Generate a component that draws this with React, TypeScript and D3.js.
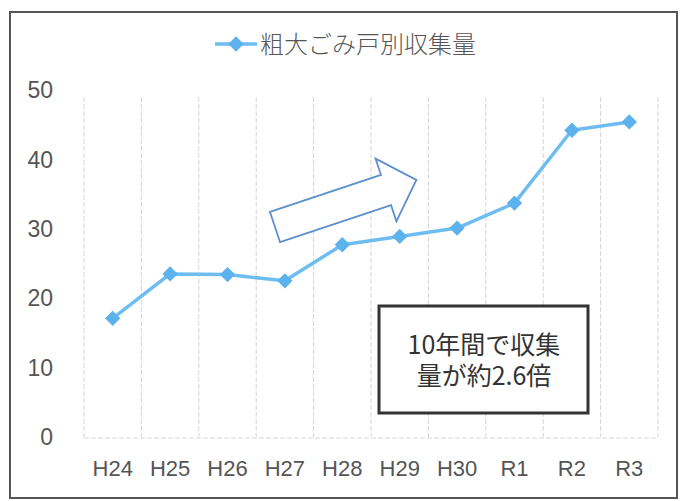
import React from "react";
import * as d3 from "d3";

const categories = ["H24", "H25", "H26", "H27", "H28", "H29", "H30", "R1", "R2", "R3"];
const values = [17.1, 23.5, 23.4, 22.5, 27.7, 28.9, 30.1, 33.7, 44.2, 45.4];
const yTicks = [0, 10, 20, 30, 40, 50];
const legendLabel = "粗大ごみ戸別収集量";
const noteLines = ["10年間で収集", "量が約2.6倍"];

const W = 685;
const H = 501;
const LINE = "#6dbdf0";
const MARK = "#5cb2ec";

export default function App() {
  const band = d3.scaleBand<string>().domain(categories).range([84, 658]).padding(0);
  const x = (c: string) => (band(c) as number) + band.bandwidth() / 2;
  const y = d3.scaleLinear().domain([0, 50]).range([437, 90]);
  const line = d3
    .line<number>()
    .x((_, i) => x(categories[i]))
    .y((d) => y(d));
  const diamond = d3.symbol().type(d3.symbolDiamond2).size(150)() as string;

  const gridXs = [...categories.map((c) => band(c) as number), 658];

  // block arrow in local coordinates, rotated
  const arrowPts: [number, number][] = [
    [0, -16],
    [117, -16],
    [117, -33],
    [149, 0],
    [117, 33],
    [117, 16],
    [0, 16],
  ];
  const arrowAngle = (Math.atan2(-47, 141) * 180) / Math.PI;

  return (
    <div style={{ position: "fixed", left: 0, top: 0, width: W, height: H, background: "#fff" }}>
      <svg width={W} height={H} style={{ display: "block" }}>
        <rect x={0} y={0} width={W} height={H} fill="#fff" />
        <rect x={10} y={12} width={667} height={486} fill="none" stroke="#555" strokeWidth={2} />

        {/* legend */}
        <line x1={215} x2={257} y1={44} y2={44} stroke={LINE} strokeWidth={3.5} />
        <path d={diamond} transform="translate(236,44)" fill={MARK} />
        <text
          x={260}
          y={53}
          fontFamily="'Noto Sans CJK JP', sans-serif"
          fontSize={24}
          fontWeight={300}
          fill="#555"
        >
          {legendLabel}
        </text>

        {/* vertical gridlines */}
        {gridXs.map((gx, i) => (
          <line
            key={i}
            x1={gx}
            x2={gx}
            y1={97}
            y2={y(0)}
            stroke="#d6d6d6"
            strokeWidth={1}
            strokeDasharray="5,2"
          />
        ))}
        <line x1={84} x2={658} y1={y(0) + 1} y2={y(0) + 1} stroke="#d6d6d6" strokeWidth={1} strokeDasharray="5,2" />

        {/* y tick labels */}
        {yTicks.map((t) => (
          <text
            key={t}
            x={53}
            y={y(t)}
            dy="0.36em"
            textAnchor="end"
            fontFamily="'Liberation Sans', Arial, sans-serif"
            fontSize={23}
            fill="#555"
          >
            {t}
          </text>
        ))}

        {/* x labels */}
        {categories.map((c) => (
          <text
            key={c}
            x={x(c)}
            y={476}
            textAnchor="middle"
            fontFamily="'Liberation Sans', Arial, sans-serif"
            fontSize={22}
            fill="#555"
          >
            {c}
          </text>
        ))}

        {/* arrow */}
        <polygon
          points={arrowPts.map((p) => p.join(",")).join(" ")}
          transform={`translate(275,227) rotate(${arrowAngle})`}
          fill="#fff"
          stroke="#5b8fcf"
          strokeWidth={1.8}
          strokeLinejoin="miter"
        />

        {/* series */}
        <path d={line(values) as string} fill="none" stroke={LINE} strokeWidth={3.5} strokeLinejoin="round" />
        {values.map((v, i) => (
          <path key={i} d={diamond} transform={`translate(${x(categories[i])},${y(v)})`} fill={MARK} />
        ))}

        {/* note box */}
        <rect x={379} y={306} width={209} height={107} fill="#fff" stroke="#333" strokeWidth={3} />
        <text
          textAnchor="middle"
          fontFamily="'Noto Sans CJK JP', sans-serif"
          fontSize={25}
          fill="#333"
        >
          {noteLines.map((l, i) => (
            <tspan key={i} x={484} y={354 + i * 31}>
              {l}
            </tspan>
          ))}
        </text>
      </svg>
    </div>
  );
}
